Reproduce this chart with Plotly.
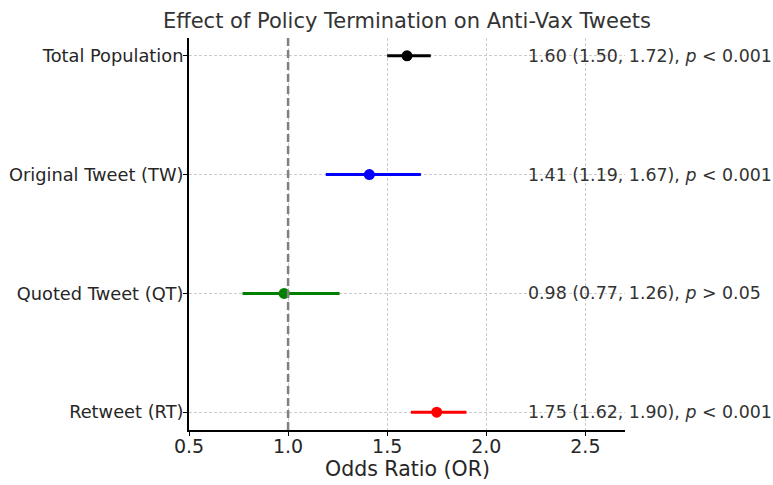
import plotly.graph_objects as go

categories = ["Total Population", "Original Tweet (TW)", "Quoted Tweet (QT)", "Retweet (RT)"]
odds_ratio = [1.60, 1.41, 0.98, 1.75]
ci_low = [1.50, 1.19, 0.77, 1.62]
ci_high = [1.72, 1.67, 1.26, 1.90]
p_labels = ["p < 0.001", "p < 0.001", "p > 0.05", "p < 0.001"]
colors = ["black", "blue", "green", "red"]

ypos = [3, 2, 1, 0]

fig = go.Figure()
fig.add_shape(type="line", x0=1, x1=1, y0=0, y1=1, xref="x", yref="paper",
              line=dict(color="gray", width=2.5, dash="8px,4px"), layer="above")
for i, cat in enumerate(categories):
    fig.add_trace(go.Scatter(
        x=[ci_low[i], ci_high[i]], y=[ypos[i], ypos[i]], mode="lines",
        line=dict(color=colors[i], width=3), showlegend=False, hoverinfo="skip"))
    fig.add_trace(go.Scatter(
        x=[odds_ratio[i]], y=[ypos[i]], mode="markers",
        marker=dict(color=colors[i], size=11), showlegend=False, name=cat))
    p_sym, p_rest = p_labels[i].split(" ", 1)
    fig.add_annotation(
        x=2.2, y=ypos[i], xref="x", yref="y", xanchor="left", yanchor="middle",
        text=f"{odds_ratio[i]:.2f} ({ci_low[i]:.2f}, {ci_high[i]:.2f}), <i>{p_sym}</i> {p_rest}",
        showarrow=False, font=dict(size=17.4, color="#333333", family="DejaVu Sans"))

fig.add_annotation(
    x=0.5, y=-(469 - 430) / 392, xref="paper", yref="paper", xanchor="center", yanchor="middle",
    text="Odds Ratio (OR)", showarrow=False, font=dict(size=20.5, color="#262626"))

fig.update_layout(
    width=773, height=485,
    margin=dict(l=189, r=148, t=38, b=55, autoexpand=False),
    plot_bgcolor="white", paper_bgcolor="white",
    font=dict(family="DejaVu Sans", color="#262626"),
    title=dict(text="Effect of Policy Termination on Anti-Vax Tweets",
               x=407 / 773, xanchor="center", y=1 - 21 / 485, yanchor="middle",
               font=dict(size=21, color="#333333")),
)

fig.update_xaxes(
    range=[0.5, 2.7], tickvals=[0.5, 1.0, 1.5, 2.0, 2.5], ticktext=["0.5", "1.0", "1.5", "2.0", "2.5"],
    showgrid=True, gridcolor="#cccccc", griddash="3px,2px", gridwidth=1,
    showline=True, linecolor="black", linewidth=2, ticks="outside", ticklen=4, tickcolor="black",
    tickfont=dict(size=19, color="#262626"), automargin=False, ticklabelstandoff=-6,
    zeroline=False, mirror=False)
fig.update_yaxes(
    range=[-0.15, 3.15], tickvals=ypos, ticktext=categories, automargin=False,
    showgrid=True, gridcolor="#cccccc", griddash="3px,2px", gridwidth=1,
    showline=True, linecolor="black", linewidth=2, ticks="outside", ticklen=4, tickcolor="black",
    tickfont=dict(size=17.8, color="#262626"), ticklabelstandoff=-4, zeroline=False, mirror=False)

fig.write_html("out.html")
